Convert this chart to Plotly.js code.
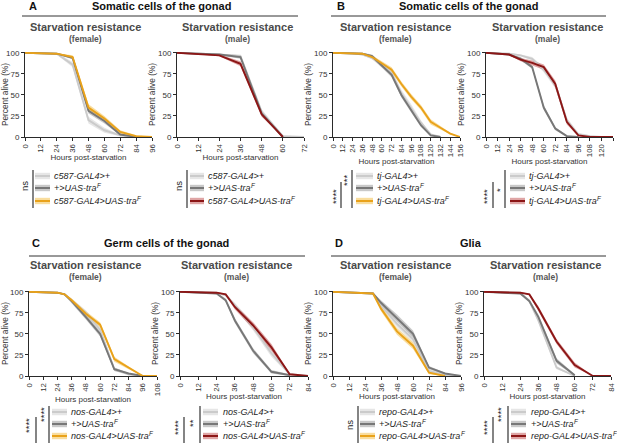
<!DOCTYPE html>
<html><head><meta charset="utf-8">
<script src="https://cdn.plot.ly/plotly-3.0.1.min.js"></script>
<style>html,body{margin:0;padding:0;background:#fff}</style>
</head><body><div id="chart" style="width:617px;height:444px"></div>
<script>
// ---------------- DATA ----------------
// Panel A (c587-GAL4) female
const hoursAF = [0, 24, 36, 48, 60, 72, 84, 96];
const aF_gal4    = [100, 99, 86, 20, 8, 2, 0, null];
const aF_gal4_se = [0, 1, 3, 4, 3, 1, 0, null];
const aF_uas     = [100, 99, 94, 31, 19, 3, 0, null];
const aF_uas_se  = [0, 0.5, 2, 3, 3, 1, 0, null];
const aF_exp     = [100, 99, 95, 35, 22, 6, 1, 0];
const aF_exp_se  = [0, 0.5, 2, 4, 3, 2, 1, 0];
// Panel A male
const hoursAM = [0, 24, 36, 48, 60, 72];
const aM_gal4    = [100, 98, 96, 30, 1, 0];
const aM_gal4_se = [0, 1, 2, 3, 1, 0];
const aM_uas     = [100, 98, 95, 28, 0, null];
const aM_uas_se  = [0, 1, 2, 3, 0, null];
const aM_exp     = [100, 97, 87, 27, 0, null];
const aM_exp_se  = [0, 1, 3, 3, 0, null];
// Panel B (tj-GAL4) female
const hoursBF = [0, 24, 36, 48, 60, 72, 84, 96, 108, 120, 132, 144, 156];
const bF_gal4    = [100, 99.5, 98, 94, 86, 76, 52, 35, 17, 3, 0, null, null];
const bF_gal4_se = [0, 0.5, 1, 2, 3, 3, 4, 4, 3, 1, 0, null, null];
const bF_uas     = [100, 99.5, 99, 96, 85, 74, 50, 32, 14, 2, 0, null, null];
const bF_uas_se  = [0, 0.5, 1, 2, 3, 3, 3, 3, 2, 1, 0, null, null];
const bF_exp     = [100, 99.5, 99, 95, 87, 80, 63, 48, 35, 18, 11, 4, 0];
const bF_exp_se  = [0, 0.5, 1, 2, 3, 3, 3, 3, 3, 3, 2, 1, 0];
// Panel B male
const hoursBM = [0, 24, 36, 48, 60, 72, 84, 96, 108, 120, 132];
const bM_gal4    = [100, 99, 97, 93, 80, 62, 20, 3, 1, 0, null];
const bM_gal4_se = [0, 1, 1, 2, 3, 4, 3, 2, 1, 0, null];
const bM_uas     = [100, 98, 93, 83, 35, 10, 1, 0, null, null, null];
const bM_uas_se  = [0, 1, 2, 2, 3, 2, 1, 0, null, null, null];
const bM_exp     = [100, 98, 92, 88, 83, 63, 18, 2, 0, 0, 0];
const bM_exp_se  = [0, 1, 2, 3, 3, 4, 3, 1, 0, 0, 0];
// Panel C (nos-GAL4) female
const hoursCF = [0, 24, 30, 36, 48, 60, 72, 84, 96, 108];
const cF_gal4    = [100, 99, 97, 90, 75, 55, 8, 2, 0, null];
const cF_gal4_se = [0, 0.5, 1, 2, 3, 3, 2, 1, 0, null];
const cF_uas     = [100, 99, 97, 89, 70, 50, 8, 3, 0, null];
const cF_uas_se  = [0, 0.5, 1, 2, 3, 3, 2, 1, 0, null];
const cF_exp     = [100, 99, 97, 90, 74, 61, 20, 10, 0, 0];
const cF_exp_se  = [0, 0.5, 1, 2, 3, 3, 3, 2, 0, 0];
// Panel C male
const hoursCM = [0, 24, 30, 36, 48, 60, 72, 84];
const cM_gal4    = [100, 99, 96, 84, 58, 27, 2, 0];
const cM_gal4_se = [0, 0.5, 1, 3, 4, 4, 1, 0];
const cM_uas     = [100, 98, 90, 66, 30, 5, 1, null];
const cM_uas_se  = [0, 1, 2, 3, 3, 2, 1, null];
const cM_exp     = [100, 99, 97, 82, 60, 34, 2, 0];
const cM_exp_se  = [0, 0.5, 1, 3, 4, 4, 1, 0];
// Panel D (repo-GAL4) female
const hoursDF = [0, 24, 30, 36, 48, 60, 72, 84, 96];
const dF_gal4    = [100, 99, 98, 84, 62, 44, 6, 1, 0];
const dF_gal4_se = [0, 0.5, 1, 3, 4, 4, 2, 1, 0];
const dF_uas     = [100, 99, 98, 87, 69, 50, 10, 3, 0];
const dF_uas_se  = [0, 0.5, 1, 3, 4, 4, 2, 1, 0];
const dF_exp     = [100, 99, 98, 80, 53, 36, 4, 0, null];
const dF_exp_se  = [0, 0.5, 1, 3, 4, 4, 2, 0, null];
// Panel D male
const hoursDM = [0, 24, 30, 36, 48, 60, 72, 84];
const dM_gal4    = [100, 99, 89, 66, 10, 0, null, null];
const dM_gal4_se = [0, 0.5, 2, 3, 2, 0, null, null];
const dM_uas     = [100, 98, 89, 70, 18, 1, null, null];
const dM_uas_se  = [0, 1, 2, 3, 3, 1, null, null];
const dM_exp     = [100, 99, 97, 80, 41, 13, 0, 0];
const dM_exp_se  = [0, 0.5, 1, 3, 3, 3, 0, 0];

const xMax = [96, 72, 156, 132, 108, 84, 96, 84];
const yTicks = [0, 25, 50, 75, 100];

const panelHeaders = ['Somatic cells of the gonad', 'Somatic cells of the gonad', 'Germ cells of the gonad', 'Glia'];
const panelLetters = ['A', 'B', 'C', 'D'];
const sexLabels = ['(female)', '(male)'];
const xTitle = 'Hours post-starvation';
const yTitle = 'Percent alive (%)';
const plotTitle = 'Starvation resistance';
// legend labels: [main text, superscript]
const driverA = [['c587-GAL4>+', ''], ['+>UAS-tra', 'F'], ['c587-GAL4>UAS-tra', 'F']];
const driverB = [['tj-GAL4>+', ''], ['+>UAS-tra', 'F'], ['tj-GAL4>UAS-tra', 'F']];
const driverC = [['nos-GAL4>+', ''], ['+>UAS-tra', 'F'], ['nos-GAL4>UAS-tra', 'F']];
const driverD = [['repo-GAL4>+', ''], ['+>UAS-tra', 'F'], ['repo-GAL4>UAS-tra', 'F']];

// ---------------- STYLE / LAYOUT ----------------
const W = 617, H = 444;
const px = x => x / W, py = y => 1 - y / H;
const FONT = 'Liberation Sans, Arial, Helvetica, sans-serif';
const LEG_SIZE = 9;
const STY = {
  light:  {line: '#cbcbcb', band: 'rgba(205,205,205,0.5)'},
  dark:   {line: '#777777', band: 'rgba(135,135,135,0.45)'},
  yellow: {line: '#e9a21a', band: 'rgba(242,180,40,0.45)'},
  red:    {line: '#8c1616', band: 'rgba(185,55,55,0.45)'}
};
const esc = s => s.replace(/&/g, '&amp;').replace(/</g, '&lt;').replace(/>/g, '&gt;');
const ctx = document.createElement('canvas').getContext('2d');
ctx.font = 'italic ' + LEG_SIZE + 'px "Liberation Sans", Arial, sans-serif';
const textW = s => ctx.measureText(s).width;

const panels = [
  {t: hoursAF, s: [[aF_gal4, aF_gal4_se], [aF_uas, aF_uas_se], [aF_exp, aF_exp_se]], exp: 'yellow', x0: 25, x1: 152, row: 0, sex: 0, names: driverA,
   tx: 85, leg: {s0: 35, s1: 50, tx: 53}, bars: [{x: 33, y0: 170, y1: 208, lab: 'ns', lx: 25, ly: 186}]},
  {t: hoursAM, s: [[aM_gal4, aM_gal4_se], [aM_uas, aM_uas_se], [aM_exp, aM_exp_se]], exp: 'red', x0: 177, x1: 304, row: 0, sex: 1, names: driverA,
   tx: 237, leg: {s0: 190, s1: 204, tx: 207}, bars: [{x: 187, y0: 170, y1: 208, lab: 'ns', lx: 179, ly: 186}]},
  {t: hoursBF, s: [[bF_gal4, bF_gal4_se], [bF_uas, bF_uas_se], [bF_exp, bF_exp_se]], exp: 'yellow', x0: 333, x1: 460, row: 0, sex: 0, names: driverB,
   tx: 395, leg: {s0: 356, s1: 373, tx: 376}, bars: [{x: 341, y0: 182, y1: 208, lab: '****', lx: 335, ly: 197}, {x: 352, y0: 170, y1: 208, lab: '***', lx: 347, ly: 181}]},
  {t: hoursBM, s: [[bM_gal4, bM_gal4_se], [bM_uas, bM_uas_se], [bM_exp, bM_exp_se]], exp: 'red', x0: 486, x1: 613, row: 0, sex: 1, names: driverB,
   tx: 547, leg: {s0: 510, s1: 525, tx: 528}, bars: [{x: 493, y0: 182, y1: 208, lab: '****', lx: 486, ly: 197}, {x: 505, y0: 170, y1: 208, lab: '*', lx: 499, ly: 190}]},
  {t: hoursCF, s: [[cF_gal4, cF_gal4_se], [cF_uas, cF_uas_se], [cF_exp, cF_exp_se]], exp: 'yellow', x0: 29, x1: 157, row: 1, sex: 0, names: driverC,
   tx: 85, leg: {s0: 52, s1: 67, tx: 70}, bars: [{x: 36, y0: 417, y1: 443, lab: '****', lx: 28, ly: 426}, {x: 49, y0: 406, y1: 443, lab: '****', lx: 43, ly: 415}]},
  {t: hoursCM, s: [[cM_gal4, cM_gal4_se], [cM_uas, cM_uas_se], [cM_exp, cM_exp_se]], exp: 'red', x0: 180, x1: 308, row: 1, sex: 1, names: driverC,
   tx: 236, leg: {s0: 203, s1: 218, tx: 222}, bars: [{x: 184, y0: 417, y1: 443, lab: '****', lx: 177, ly: 427}, {x: 200, y0: 406, y1: 443, lab: '**', lx: 192, ly: 423}]},
  {t: hoursDF, s: [[dF_gal4, dF_gal4_se], [dF_uas, dF_uas_se], [dF_exp, dF_exp_se]], exp: 'yellow', x0: 333, x1: 461, row: 1, sex: 0, names: driverD,
   tx: 395, leg: {s0: 360, s1: 375, tx: 378}, bars: [{x: 358, y0: 406, y1: 443, lab: 'ns', lx: 349, ly: 425}]},
  {t: hoursDM, s: [[dM_gal4, dM_gal4_se], [dM_uas, dM_uas_se], [dM_exp, dM_exp_se]], exp: 'red', x0: 484, x1: 611, row: 1, sex: 1, names: driverD,
   tx: 545, leg: {s0: 511, s1: 526, tx: 530}, bars: [{x: 493, y0: 417, y1: 443, lab: '****', lx: 486, ly: 428}, {x: 508, y0: 406, y1: 443, lab: '****', lx: 500, ly: 415}]}
];

const rows = [
  {top: 52, bot: 137, head: 6, line: 16, sub: 27, sex: 39, leg: [176, 188, 201]},
  {top: 291, bot: 376, head: 243, line: 256, sub: 265, sex: 277, leg: [412, 424, 436]}
];
const headers = [
  {letter: 27, cx: 162, l0: 22, l1: 298, row: 0},
  {letter: 335, cx: 469, l0: 331, l1: 606, row: 0},
  {letter: 30, cx: 166, l0: 29, l1: 305, row: 1},
  {letter: 333, cx: 471, l0: 331, l1: 606, row: 1}
];

const traces = [], annotations = [], shapes = [];
const layout = {
  width: W, height: H, margin: {l: 0, r: 0, t: 0, b: 0},
  paper_bgcolor: '#fff', plot_bgcolor: 'rgba(0,0,0,0)', showlegend: false,
  font: {family: FONT, color: '#222'}, annotations, shapes
};

const ann = (x, y, text, o) => Object.assign({xref: 'paper', yref: 'paper', x: px(x), y: py(y), text, showarrow: false,
  xanchor: 'center', yanchor: 'middle', font: {family: FONT, size: 8, color: '#222'}}, o || {});

panels.forEach((p, i) => {
  const sfx = i === 0 ? '' : String(i + 1);
  const R = rows[p.row];
  const axBase = {showline: true, linecolor: '#2a2a2a', linewidth: 1, ticks: 'outside', ticklen: 3, tickwidth: 1,
    tickcolor: '#2a2a2a', showgrid: false, zeroline: false, fixedrange: true, automargin: false};
  layout['xaxis' + sfx] = Object.assign({}, axBase, {domain: [px(p.x0), px(p.x1)], anchor: 'y' + sfx,
    range: [0, xMax[i]], tick0: 0, dtick: 12, tickangle: -90, tickfont: {family: FONT, size: 7.8, color: '#333'},
    title: {text: xTitle, standoff: 1, font: {family: FONT, size: 8, color: '#333'}}});
  layout['yaxis' + sfx] = Object.assign({}, axBase, {domain: [py(R.bot), py(R.top)], anchor: 'x' + sfx,
    range: [0, 101], tickvals: yTicks, tickfont: {family: FONT, size: 8, color: '#333'},
    title: {text: yTitle, standoff: 1, font: {family: FONT, size: 8.3, color: '#333'}}});
  const styles = [STY.light, STY.dark, STY[p.exp]];
  // confidence bands
  p.s.forEach(([v, se], j) => {
    const xs = [], up = [], lo = [];
    p.t.forEach((t, k) => { if (v[k] !== null) { xs.push(t); up.push(Math.min(100, v[k] + se[k])); lo.push(Math.max(0, v[k] - se[k])); } });
    traces.push({x: xs.concat(xs.slice().reverse()), y: up.concat(lo.slice().reverse()), xaxis: 'x' + sfx, yaxis: 'y' + sfx,
      type: 'scatter', mode: 'lines', fill: 'toself', fillcolor: styles[j].band, line: {width: 0}, hoverinfo: 'skip'});
  });
  // survival lines
  p.s.forEach(([v], j) => {
    traces.push({x: p.t, y: v, xaxis: 'x' + sfx, yaxis: 'y' + sfx, type: 'scatter', mode: 'lines',
      line: {color: styles[j].line, width: 1.9}, hoverinfo: 'skip'});
  });
  // subplot titles
  annotations.push(ann(p.tx, R.sub, plotTitle, {font: {family: FONT, size: 11, color: '#4a4a4a', weight: 'bold'}}));
  annotations.push(ann(p.tx, R.sex, sexLabels[p.sex], {font: {family: FONT, size: 8.5, color: '#555', weight: 'bold'}}));
  // legend
  p.names.forEach(([nm, sup], j) => {
    const y = R.leg[j];
    shapes.push({type: 'rect', xref: 'paper', yref: 'paper', x0: px(p.leg.s0), x1: px(p.leg.s1), y0: py(y + 3.2), y1: py(y - 3.2),
      fillcolor: styles[j].band, line: {width: 0}});
    shapes.push({type: 'line', xref: 'paper', yref: 'paper', x0: px(p.leg.s0), x1: px(p.leg.s1), y0: py(y), y1: py(y),
      line: {color: styles[j].line, width: 2}});
    annotations.push(ann(p.leg.tx, y, esc(nm), {xanchor: 'left', borderpad: 0,
      font: {family: FONT, size: LEG_SIZE, color: '#222', style: 'italic'}}));
    if (sup) {
      annotations.push(ann(p.leg.tx + textW(nm) + 0.6, y - 3, sup, {xanchor: 'left', borderpad: 0,
        font: {family: FONT, size: 6.3, color: '#222', style: 'italic'}}));
    }
  });
  // significance brackets
  p.bars.forEach(b => {
    shapes.push({type: 'line', xref: 'paper', yref: 'paper', x0: px(b.x), x1: px(b.x), y0: py(b.y0), y1: py(b.y1),
      line: {color: '#333', width: 1.2}});
    annotations.push(ann(b.lx, b.ly, b.lab, {textangle: -90, font: {family: FONT, size: 9.5, color: '#222'}}));
  });
});

headers.forEach((h, k) => {
  const R = rows[h.row];
  annotations.push(ann(h.letter, R.head, panelLetters[k], {xanchor: 'left', font: {family: FONT, size: 11, color: '#111', weight: 'bold'}}));
  annotations.push(ann(h.cx, R.head, panelHeaders[k], {font: {family: FONT, size: 11, color: '#111', weight: 'bold'}}));
  shapes.push({type: 'line', xref: 'paper', yref: 'paper', x0: px(h.l0), x1: px(h.l1), y0: py(R.line), y1: py(R.line),
    line: {color: '#333', width: 1}});
});

Plotly.newPlot('chart', traces, layout, {staticPlot: true, displayModeBar: false});
</script></body></html>
